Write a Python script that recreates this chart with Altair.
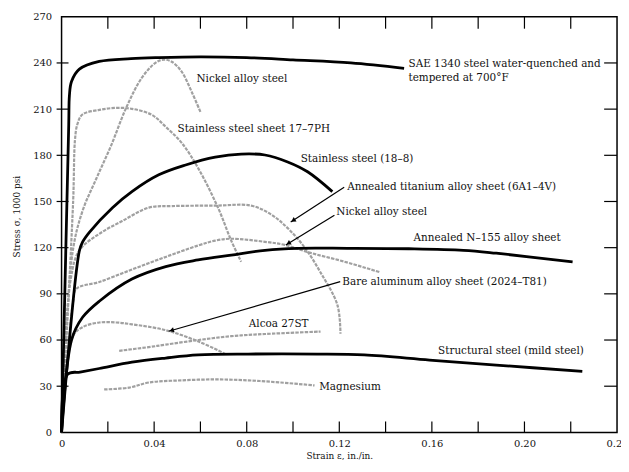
import math
import altair as alt
import pandas as pd

FONT = "DejaVu Serif"
W, H = 560, 419
X_MAX, Y_MAX = 0.24, 270

# ---- curve data (strain, stress in 1000 psi) ----
sae_x = [0, 0.0031, 0.0034, 0.0043, 0.0077, 0.0163, 0.03, 0.042, 0.06, 0.08, 0.10, 0.125, 0.148]
sae_y = [0, 200, 219, 228, 236, 241, 242.8, 243.5, 244, 243.5, 242, 240, 236.5]

ss188_x = [0, 0.0077, 0.009, 0.012, 0.022, 0.0304, 0.042, 0.0536, 0.0664, 0.0776, 0.0879, 0.0977, 0.1063, 0.117]
ss188_y = [0, 118, 123.5, 130, 146, 156.4, 167.3, 173.7, 178.8, 180.8, 180.2, 175.7, 169.3, 156.4]

n155_x = [0, 0.0043, 0.009, 0.0163, 0.0304, 0.045, 0.059, 0.0733, 0.0879, 0.102, 0.1235, 0.15, 0.1736, 0.1878, 0.2208]
n155_y = [0, 60, 74.6, 85.2, 99.6, 107.7, 112, 115.2, 118.3, 119.6, 119.6, 119.3, 118.3, 116.4, 110.8]

mild_x = [0, 0.0026, 0.008, 0.0163, 0.0304, 0.045, 0.059, 0.0806, 0.1106, 0.1308, 0.159, 0.1878, 0.225]
mild_y = [0, 37.7, 39.2, 41.5, 45.6, 48.3, 50.3, 50.9, 50.9, 50.3, 47, 43.7, 39.7]

ni1_x = [0, 0.0047, 0.009, 0.015, 0.0214, 0.0279, 0.0347, 0.0407, 0.0442, 0.0476, 0.0519, 0.0562, 0.06]
ni1_y = [0, 116.4, 143.6, 164.8, 186.3, 210.8, 230.4, 240.2, 242.2, 240.8, 234.3, 221.3, 208.2]

ph_x = [0, 0.005, 0.0058, 0.0068, 0.009, 0.0163, 0.0236, 0.0304, 0.039, 0.045, 0.0519, 0.0592, 0.0677, 0.0733, 0.0776]
ph_y = [0, 150, 190, 200, 206.5, 209.5, 210.8, 210.2, 206.3, 198.5, 188.1, 171.2, 145.6, 124.6, 110.8]

ti_x = [0, 0.004, 0.0077, 0.0163, 0.0262, 0.0377, 0.0476, 0.0664, 0.0819, 0.0905, 0.0977, 0.105, 0.1119, 0.1192, 0.1205]
ti_y = [0, 100, 118.3, 129, 137.3, 146, 147, 147.3, 147.3, 141.6, 132.7, 120.2, 103.9, 82.7, 64]

ni2_x = [0, 0.005, 0.0064, 0.0163, 0.0304, 0.045, 0.0592, 0.0664, 0.0733, 0.0879, 0.0964, 0.1076, 0.122, 0.1376]
ni2_y = [0, 85, 93.3, 97.7, 105.8, 114, 121.5, 124.6, 125.8, 123.8, 121.8, 116.6, 111, 104]

al_x = [0, 0.0047, 0.009, 0.0163, 0.0236, 0.0304, 0.045, 0.0592, 0.0707]
al_y = [0, 62, 68.3, 71.4, 71.4, 70.2, 66.4, 59, 51]

alcoa_x = [0.0249, 0.0377, 0.045, 0.0592, 0.0733, 0.0879, 0.1119]
alcoa_y = [53, 55.4, 57, 60, 62.5, 63.9, 65.5]

mg_x = [0.0184, 0.0292, 0.0377, 0.0519, 0.0664, 0.0806, 0.0947, 0.1093]
mg_y = [27.9, 29.1, 32.4, 33.8, 34.4, 33.8, 32.4, 30.5]

# ---- annotation texts and their anchor positions (data units) ----
label_text = [
    "SAE 1340 steel water-quenched and", "tempered at 700°F", "Nickel alloy steel",
    "Stainless steel sheet 17–7PH", "Stainless steel (18–8)",
    "Annealed titanium alloy sheet (6A1–4V)", "Nickel alloy steel",
    "Annealed N–155 alloy sheet", "Bare aluminum alloy sheet (2024–T81)",
    "Alcoa 27ST", "Structural steel (mild steel)", "Magnesium",
]
label_x = [0.1499, 0.1499, 0.0583, 0.0501, 0.1033, 0.1234, 0.1187, 0.1521, 0.1213, 0.0809, 0.1627, 0.1113]
label_y = [239.1, 230.2, 229.4, 197.2, 177.9, 159.2, 143.1, 126.3, 97.9, 70.2, 53.0, 29.4]

# leader arrows: start (near label) -> tip (on curve)
arrow_x0 = [0.1221, 0.1179, 0.1204]
arrow_y0 = [159.2, 141.1, 97.9]
arrow_x1 = [0.0990, 0.0969, 0.0463]
arrow_y1 = [136.6, 121.8, 65.7]

# tick positions
x_label_vals = [0, 0.04, 0.08, 0.12, 0.16, 0.20, 0.24]
x_minor_vals = [0.02, 0.04, 0.06, 0.08, 0.10, 0.12, 0.14, 0.16, 0.18, 0.20, 0.22]
y_label_vals = [0, 30, 60, 90, 120, 150, 180, 210, 240, 270]
y_minor_vals = [30, 60, 90, 120, 150, 180, 210, 240]

black_curves = {
    "SAE 1340": (sae_x, sae_y),
    "Stainless 18-8": (ss188_x, ss188_y),
    "N-155": (n155_x, n155_y),
    "Structural": (mild_x, mild_y),
}
gray_curves = {
    "Nickel 1": (ni1_x, ni1_y),
    "17-7PH": (ph_x, ph_y),
    "Titanium": (ti_x, ti_y),
    "Nickel 2": (ni2_x, ni2_y),
    "Aluminum": (al_x, al_y),
    "Alcoa": (alcoa_x, alcoa_y),
    "Magnesium": (mg_x, mg_y),
}


def to_frame(curves):
    rows = []
    for name, (xs, ys) in curves.items():
        for i, (a, b) in enumerate(zip(xs, ys)):
            rows.append({"series": name, "i": i, "x": a, "y": b})
    return pd.DataFrame(rows)


df_black = to_frame(black_curves)
df_gray = to_frame(gray_curves)

df_labels = pd.DataFrame({"x": label_x, "y": label_y, "text": label_text})
df_arrows = pd.DataFrame({"x": arrow_x0, "y": arrow_y0, "x2": arrow_x1, "y2": arrow_y1})

heads = []
for x0, y0, x1, y1 in zip(arrow_x0, arrow_y0, arrow_x1, arrow_y1):
    dx = (x1 - x0) / X_MAX * W
    dy = -(y1 - y0) / Y_MAX * H
    L = math.hypot(dx, dy)
    ang = math.degrees(math.atan2(dx, -dy)) % 360
    back = 3.0
    hx = x1 - (dx / L) * back * X_MAX / W
    hy = y1 + (dy / L) * back * Y_MAX / H
    heads.append({"x": hx, "y": hy, "angle": ang})
df_heads = pd.DataFrame(heads)

X = alt.X(
    "x:Q",
    scale=alt.Scale(domain=[0, X_MAX], nice=False, zero=False),
    axis=alt.Axis(
        values=x_label_vals,
        labelExpr="datum.value == 0 ? '0' : format(datum.value, '.2f')",
        ticks=False, tickSize=0, domain=False, grid=False,
        labelPadding=6, labelFlush=False, labelFont=FONT, labelFontSize=10,
        labelColor="#111", title="Strain ε, in./in.", titleFont=FONT,
        titleFontSize=9, titleFontWeight="normal", titleColor="#111", titlePadding=3,
    ),
)
Y = alt.Y(
    "y:Q",
    scale=alt.Scale(domain=[0, Y_MAX], nice=False, zero=False),
    axis=alt.Axis(
        values=y_label_vals, format="d",
        ticks=False, tickSize=0, domain=False, grid=False,
        labelPadding=10, labelFlush=False, labelFont=FONT, labelFontSize=10,
        labelColor="#111", title="Stress σ, 1000 psi", titleFont=FONT,
        titleFontSize=9, titleFontWeight="normal", titleColor="#111",
        titleX=-40, titleY=201,
    ),
)

gray = alt.Chart(df_gray).mark_line(
    interpolate="catmull-rom", color="#a0a0a0", strokeWidth=2.2, strokeDash=[3.5, 1.2]
).encode(x=X, y=Y, detail="series:N", order="i:Q")

black = alt.Chart(df_black).mark_line(
    interpolate="catmull-rom", color="black", strokeWidth=2.8
).encode(x=X, y=Y, detail="series:N", order="i:Q")

texts = alt.Chart(df_labels).mark_text(
    align="left", baseline="middle", font=FONT, fontSize=10.5, color="#111"
).encode(x=X, y=Y, text="text:N")

leaders = alt.Chart(df_arrows).mark_rule(color="black", strokeWidth=1.2).encode(
    x=X, y=Y, x2="x2:Q", y2="y2:Q"
)

arrowheads = alt.Chart(df_heads).mark_point(
    shape="triangle-up", filled=True, color="black", size=28, opacity=1
).encode(x=X, y=Y, angle=alt.Angle("angle:Q", scale=None))

df_xt = pd.DataFrame({"x": x_minor_vals})
df_yt = pd.DataFrame({"y": y_minor_vals})

bottom_ticks = alt.Chart(df_xt).mark_rule(color="black", strokeWidth=1.2).encode(
    x=X, y=alt.value(H), y2=alt.value(H - 11)
)
top_ticks = alt.Chart(df_xt).mark_rule(color="black", strokeWidth=1.2).encode(
    x=X, y=alt.value(0), y2=alt.value(12)
)
right_ticks = alt.Chart(df_yt).mark_rule(color="black", strokeWidth=1.2).encode(
    y=Y, x=alt.value(W), x2=alt.value(W - 13)
)
left_ticks = alt.Chart(df_yt).mark_rule(color="black", strokeWidth=1.2).encode(
    y=Y, x=alt.value(-5), x2=alt.value(7)
)

chart = alt.layer(
    gray, black, leaders, arrowheads, texts,
    bottom_ticks, top_ticks, right_ticks, left_ticks,
).properties(
    width=W, height=H,
    autosize=alt.AutoSizeParams(type="none"),
    padding={"left": 54, "top": 7, "right": 4, "bottom": 26},
    background="white",
).configure_view(stroke="black", strokeWidth=1.5)

chart.save("out.html", embed_options={"renderer": "svg", "actions": False})
